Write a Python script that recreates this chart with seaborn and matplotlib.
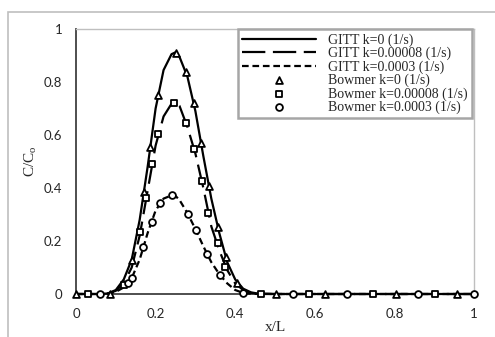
import numpy as np
import pandas as pd
import seaborn as sns
import matplotlib.pyplot as plt
from matplotlib.patches import Rectangle

# GITT curves
gitt_x = [0.0, 0.06, 0.08, 0.10, 0.12, 0.14, 0.16, 0.18, 0.20, 0.22, 0.24, 0.25, 0.26,
          0.28, 0.30, 0.32, 0.34, 0.36, 0.38, 0.40, 0.42, 0.44, 0.46, 0.50, 1.0]
gitt_k0 = [0.0, 0.0, 0.002, 0.015, 0.055, 0.13, 0.28, 0.48, 0.70, 0.845, 0.905, 0.912, 0.895,
           0.82, 0.69, 0.52, 0.36, 0.23, 0.12, 0.055, 0.02, 0.006, 0.001, 0.0, 0.0]
gitt_k8 = [0.0, 0.0, 0.002, 0.012, 0.04, 0.10, 0.22, 0.39, 0.56, 0.67, 0.718, 0.72, 0.71,
           0.63, 0.53, 0.40, 0.255, 0.165, 0.09, 0.04, 0.015, 0.004, 0.001, 0.0, 0.0]
gitt_k3 = [0.0, 0.0, 0.002, 0.008, 0.025, 0.06, 0.13, 0.23, 0.315, 0.36, 0.372, 0.37, 0.355,
           0.305, 0.245, 0.18, 0.12, 0.075, 0.04, 0.015, 0.004, 0.001, 0.0, 0.0, 0.0]

# Bowmer points
bow0_x = [0.0, 0.085, 0.140, 0.170, 0.186, 0.206, 0.250, 0.276, 0.296, 0.314, 0.334, 0.356,
          0.376, 0.404, 0.503, 0.626, 0.804, 0.957]
bow0_y = [0.0, 0.0, 0.128, 0.386, 0.553, 0.751, 0.908, 0.837, 0.722, 0.569, 0.408, 0.254,
          0.138, 0.043, 0.0, 0.0, 0.0, 0.0]
bow8_x = [0.031, 0.121, 0.162, 0.176, 0.191, 0.207, 0.245, 0.276, 0.297, 0.316, 0.332, 0.356,
          0.375, 0.466, 0.586, 0.745, 0.902]
bow8_y = [0.0, 0.033, 0.234, 0.361, 0.492, 0.604, 0.719, 0.646, 0.548, 0.426, 0.304, 0.191,
          0.103, 0.0, 0.0, 0.0, 0.0]
bow3_x = [0.060, 0.130, 0.140, 0.169, 0.190, 0.210, 0.240, 0.281, 0.302, 0.330, 0.362, 0.420,
          0.546, 0.682, 0.860, 1.0]
bow3_y = [0.0, 0.043, 0.06, 0.178, 0.273, 0.345, 0.372, 0.302, 0.241, 0.150, 0.072, 0.003,
          0.0, 0.0, 0.0, 0.0]

ticks = [0, 0.2, 0.4, 0.6, 0.8, 1]
tick_labels = ['0', '0.2', '0.4', '0.6', '0.8', '1']

sns.set_style("white")
plt.rcParams['font.family'] = ['Liberation Serif', 'DejaVu Serif']

fig = plt.figure(figsize=(4.95, 3.37), dpi=100)
ax = fig.add_axes([76 / 495, 1 - 294 / 337, 398 / 495, 265 / 337])

df = pd.DataFrame({'x': gitt_x, 'k0': gitt_k0, 'k8': gitt_k8, 'k3': gitt_k3})
ln = dict(ax=ax, color='black', lw=1.6, zorder=4, clip_on=False)
sns.lineplot(data=df, x='x', y='k0', label='GITT k=0 (1/s)', **ln)
sns.lineplot(data=df, x='x', y='k8', linestyle=(0, (10.5, 3.4)),
             label='GITT k=0.00008 (1/s)', **ln)
sns.lineplot(data=df, x='x', y='k3', linestyle=(0, (3, 1.7)),
             label='GITT k=0.0003 (1/s)', **ln)

mk = dict(facecolor='white', edgecolor='black', linewidth=1.3, s=24, zorder=5,
          clip_on=False, ax=ax)
sns.scatterplot(x=bow0_x, y=bow0_y, marker='^', label='Bowmer k=0 (1/s)', **mk)
sns.scatterplot(x=bow8_x, y=bow8_y, marker='s', label='Bowmer k=0.00008 (1/s)', **mk)
sns.scatterplot(x=bow3_x, y=bow3_y, marker='o', label='Bowmer k=0.0003 (1/s)', **mk)

ax.set_xlim(0, 1)
ax.set_ylim(0, 1)
ax.set_xticks(ticks)
ax.set_xticklabels(tick_labels, family='Lato', fontsize=9.5, color='#262626')
ax.set_yticks(ticks)
ax.set_yticklabels(tick_labels, family='Lato', fontsize=9.5, color='#262626')
ax.tick_params(length=0, pad=10)
ax.set_xlabel('x/L', fontsize=11, labelpad=1)
ax.set_ylabel('C/C$_\\mathregular{o}$', fontsize=11, labelpad=3)

for side in ['left', 'bottom']:
    ax.spines[side].set_color('#404040')
    ax.spines[side].set_linewidth(1.3)
for side in ['top', 'right']:
    ax.spines[side].set_color('#bfbfbf')
    ax.spines[side].set_linewidth(1.0)

leg = ax.legend(loc='upper right', bbox_to_anchor=(0.995, 1.0), borderaxespad=0,
                fontsize=10, handlelength=5.3, handletextpad=0.9, labelspacing=0.0,
                borderpad=0.3, frameon=True, fancybox=False, framealpha=1,
                edgecolor='#a6a6a6', scatterpoints=1)
leg.get_frame().set_linewidth(1.8)
leg.set_zorder(10)

# outer chart border
fig.add_artist(Rectangle((8 / 495, -0.1), 1.2, 1 - 12 / 337 + 0.1,
                         transform=fig.transFigure, fill=False,
                         edgecolor='#bfbfbf', lw=1.2))

fig.savefig('out.png', dpi=100)
